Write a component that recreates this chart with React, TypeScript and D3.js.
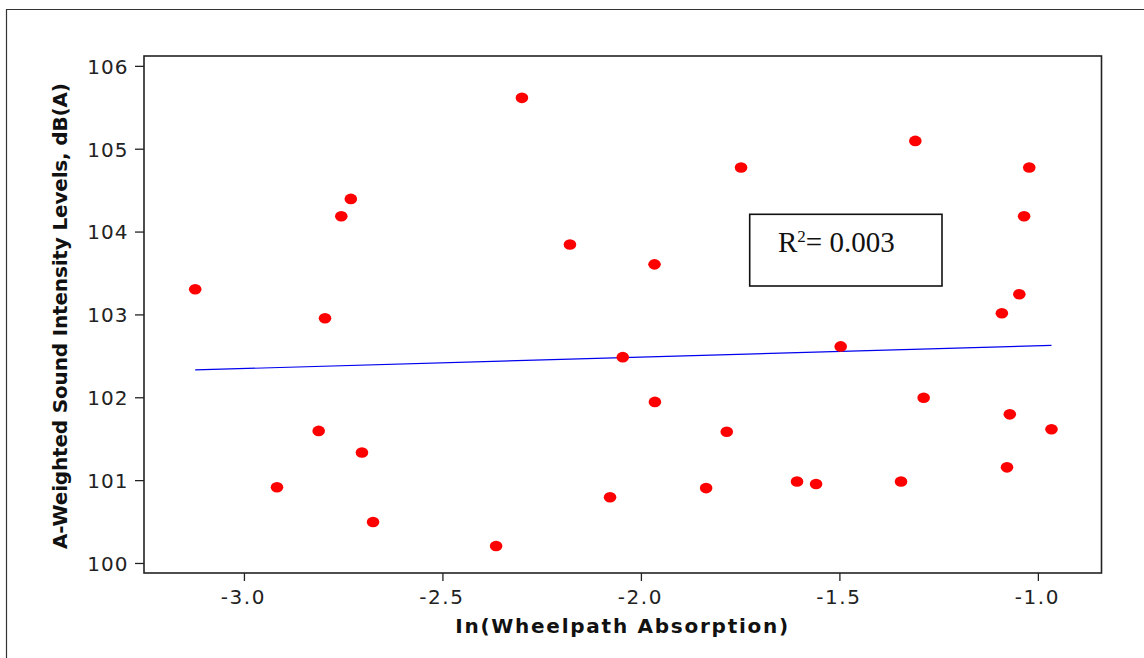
import React from "react";
import * as d3 from "d3";

const lnAbsorption: number[] = [
  -3.124, -2.918, -2.813, -2.797, -2.756, -2.732, -2.704, -2.676, -2.366, -2.301,
  -2.18, -2.079, -2.047, -1.967, -1.966, -1.837, -1.785, -1.749, -1.608, -1.56,
  -1.498, -1.346, -1.31, -1.289, -1.092, -1.079, -1.072, -1.048, -1.036, -1.023, -0.967,
];
const soundLevel: number[] = [
  103.31, 100.92, 101.6, 102.96, 104.19, 104.4, 101.34, 100.5, 100.21, 105.62,
  103.85, 100.8, 102.49, 103.61, 101.95, 100.91, 101.59, 104.78, 100.99, 100.96,
  102.62, 100.99, 105.1, 102.0, 103.02, 101.16, 101.8, 103.25, 104.19, 104.78, 101.62,
];
const fitX: number[] = [-3.124, -0.967];
const fitY: number[] = [102.336, 102.633];
const xTicks: number[] = [-3.0, -2.5, -2.0, -1.5, -1.0];
const yTicks: number[] = [100, 101, 102, 103, 104, 105, 106];
const rSquaredLabel = "0.003";

const W = 1144;
const H = 658;
const left = 144;
const right = 1101.5;
const top = 56;
const bottom = 573;

export default function App() {
  const x = d3.scaleLinear().domain([-3.253, -0.841]).range([left, right]);
  const y = d3.scaleLinear().domain([99.885, 106.125]).range([bottom, top]);
  const line = d3
    .line<number>()
    .x((_, i) => x(fitX[i]))
    .y((_, i) => y(fitY[i]));
  const tickFont = "'DejaVu Sans', sans-serif";
  return (
    <div style={{ position: "absolute", left: 0, top: 0 }}>
      <svg width={W} height={H} style={{ display: "block", background: "#fff" }}>
        <rect x={0} y={0} width={W} height={H} fill="#fff" />
        {/* outer frame */}
        <path d={`M6.5,${H} V9.5 H${W}`} fill="none" stroke="#333" strokeWidth={1.2} />
        {/* plot frame */}
        <rect
          x={left}
          y={top}
          width={right - left}
          height={bottom - top}
          fill="none"
          stroke="#222"
          strokeWidth={1.6}
        />
        {/* y ticks */}
        {yTicks.map((t) => (
          <g key={"y" + t}>
            <line x1={135} x2={left} y1={y(t)} y2={y(t)} stroke="#222" strokeWidth={1.3} />
            <text
              x={128.5}
              y={y(t)}
              dy="0.37em"
              textAnchor="end"
              fontFamily={tickFont}
              fontSize={20}
              letterSpacing={1}
              fill="#222"
            >
              {t}
            </text>
          </g>
        ))}
        {/* x ticks */}
        {xTicks.map((t) => (
          <g key={"x" + t}>
            <line x1={x(t)} x2={x(t)} y1={bottom} y2={581} stroke="#222" strokeWidth={1.3} />
            <text
              x={x(t) - 1}
              y={604}
              textAnchor="middle"
              fontFamily={tickFont}
              fontSize={20}
              letterSpacing={1.6}
              fill="#222"
            >
              {d3.format(".1f")(t).replace("−", "-")}
            </text>
          </g>
        ))}
        {/* fit line */}
        <path d={line(fitX) || ""} fill="none" stroke="#0000ee" strokeWidth={1.2} />
        {/* points */}
        {lnAbsorption.map((v, i) => (
          <ellipse key={i} cx={x(v)} cy={y(soundLevel[i])} rx={6.3} ry={5.3} fill="#ff0000" />
        ))}
        {/* R2 box */}
        <rect x={749.7} y={214.3} width={192.3} height={71.7} fill="#fff" stroke="#111" strokeWidth={1.6} />
        <text x={778} y={252} fontFamily="'Liberation Serif', 'Times New Roman', serif" fontSize={29} fill="#111">
          R
          <tspan fontSize={17} dy={-10}>2</tspan>
          <tspan dy={10}>{"= " + rSquaredLabel}</tspan>
        </text>
        {/* axis titles */}
        <text
          x={621.7}
          y={632.5}
          textAnchor="middle"
          fontFamily={tickFont}
          fontWeight="bold"
          fontSize={20}
          textLength={333}
          lengthAdjust="spacing"
          fill="#111"
        >
          In(Wheelpath Absorption)
        </text>
        <text
          transform={`translate(66.5,316) rotate(-90)`}
          textAnchor="middle"
          fontFamily={tickFont}
          fontWeight="bold"
          fontSize={20}
          textLength={466}
          lengthAdjust="spacing"
          fill="#111"
        >
          A-Weighted Sound Intensity Levels, dB(A)
        </text>
      </svg>
    </div>
  );
}
